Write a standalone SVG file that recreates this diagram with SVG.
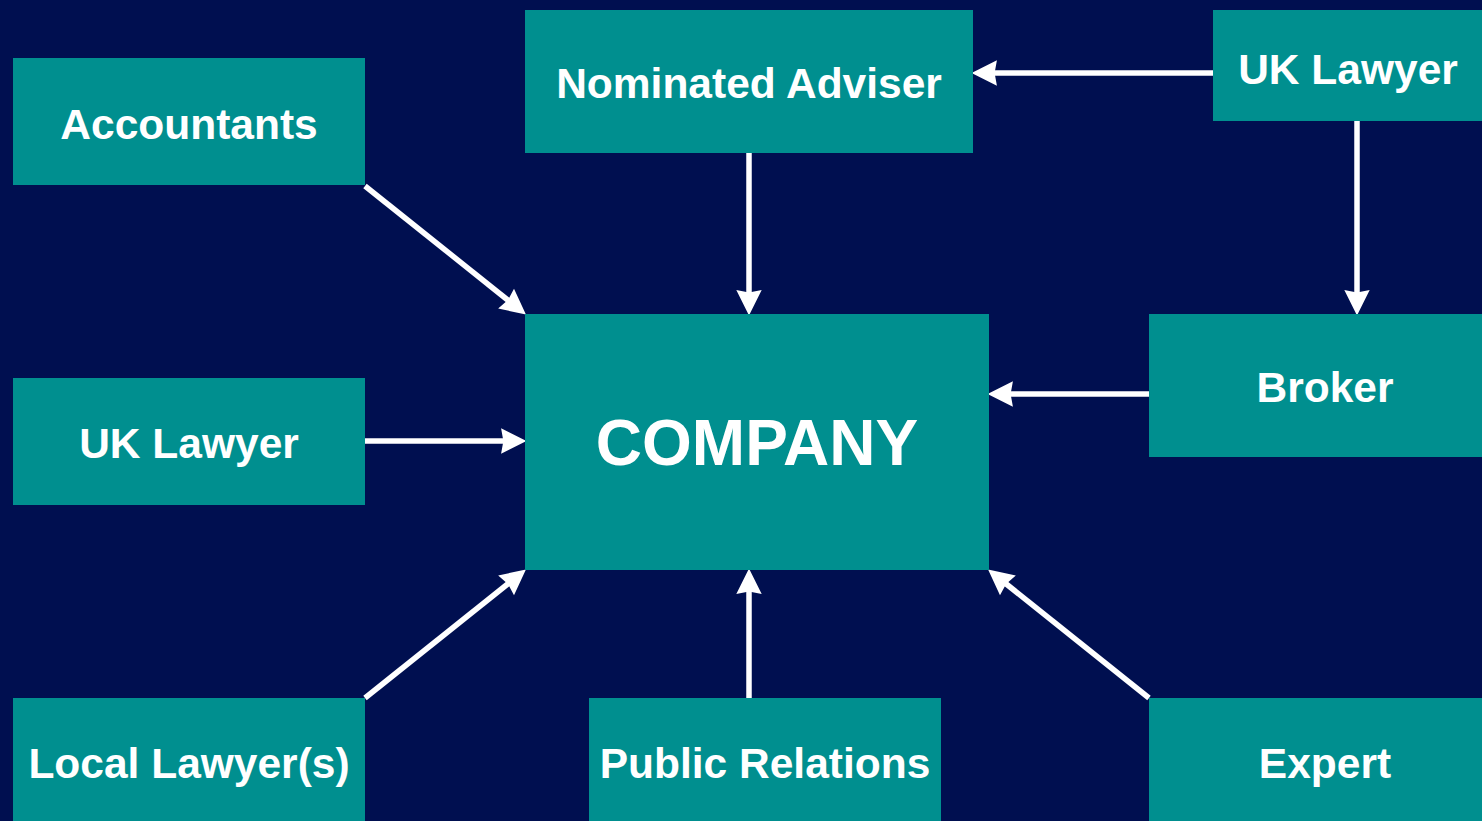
<svg xmlns="http://www.w3.org/2000/svg" width="1482" height="821" viewBox="0 0 1482 821">
<defs>
<style>
.box{fill:#008F8F}
.lbl{font-family:"Liberation Sans",Arial,sans-serif;font-weight:bold;font-size:42.5px;fill:#FFFFFF;text-anchor:middle}
.big{font-size:64px}
.con{stroke:#FFFFFF;stroke-width:5.5;fill:none;marker-end:url(#ah)}
</style>
<marker id="ah" markerUnits="userSpaceOnUse" markerWidth="30" markerHeight="30" viewBox="-8 -13 26 26" refX="0" refY="0" orient="auto">
<path d="M16,0 L-6,-11 L-4,0 L-6,11 Z" fill="#FFFFFF"/>
</marker>
</defs>
<rect width="1482" height="821" fill="#000F50"/>
<g id="connectors">
<path class="con" d="M365,186 L511.5,303"/>
<path class="con" d="M365,441 L508,441"/>
<path class="con" d="M365,698 L511.5,581"/>
<path class="con" d="M749,698 L749,587"/>
<path class="con" d="M1149,698 L1002.5,581"/>
<path class="con" d="M1149,394 L1006,394"/>
<path class="con" d="M749,153 L749,297"/>
<path class="con" d="M1213,73 L990,73"/>
<path class="con" d="M1357,121 L1357,297"/>
</g>
<g id="accountants"><rect class="box" x="13" y="58" width="352" height="127"/><text class="lbl" x="189" y="139">Accountants</text></g>
<g id="nominated-adviser"><rect class="box" x="525" y="10" width="448" height="143"/><text class="lbl" x="749" y="98">Nominated Adviser</text></g>
<g id="uk-lawyer-top"><rect class="box" x="1213" y="10" width="269" height="111"/><text class="lbl" x="1348" y="84">UK Lawyer</text></g>
<g id="uk-lawyer-left"><rect class="box" x="13" y="378" width="352" height="127"/><text class="lbl" x="189" y="458">UK Lawyer</text></g>
<g id="company"><rect class="box" x="525" y="314" width="464" height="256"/><text class="lbl big" x="757" y="465">COMPANY</text></g>
<g id="broker"><rect class="box" x="1149" y="314" width="333" height="143"/><text class="lbl" x="1325" y="402">Broker</text></g>
<g id="local-lawyers"><rect class="box" x="13" y="698" width="352" height="123"/><text class="lbl" x="189" y="778">Local Lawyer(s)</text></g>
<g id="public-relations"><rect class="box" x="589" y="698" width="352" height="123"/><text class="lbl" x="765" y="778">Public Relations</text></g>
<g id="expert"><rect class="box" x="1149" y="698" width="333" height="123"/><text class="lbl" x="1325" y="778">Expert</text></g>
</svg>
